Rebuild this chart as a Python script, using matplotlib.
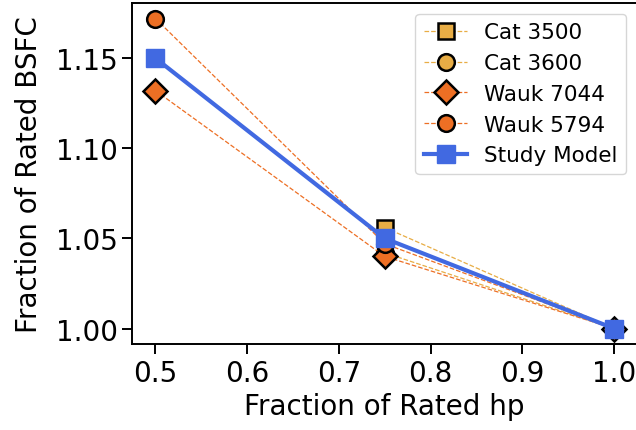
import numpy as np
import matplotlib
matplotlib.use("Agg")
import matplotlib.pyplot as plt

# Fraction of rated hp (load points)
hp_frac = [0.5, 0.75, 1.0]

# Fraction of rated BSFC for each engine
cat_3500 = [np.nan, 1.056, 1.0]
cat_3600 = [np.nan, 1.042, 1.0]
wauk_7044 = [1.132, 1.040, 1.0]
wauk_5794 = [1.172, 1.047, 1.0]
study_model = [1.15, 1.05, 1.0]

gold = "#e8ad45"
orange = "#ed6f24"
blue = "#4169e1"

plt.rcParams["font.size"] = 20

fig = plt.figure(figsize=(6.36, 4.31), dpi=100)
ax = fig.add_axes([0.2083, 0.1995, 0.7933, 0.7912])

ax.plot(hp_frac, cat_3500, "--s", color=gold, lw=0.9, ms=12,
        mfc=gold, mec="black", mew=1.8, label="Cat 3500")
ax.plot(hp_frac, cat_3600, "--o", color=gold, lw=0.9, ms=12,
        mfc=gold, mec="black", mew=1.8, label="Cat 3600")
ax.plot(hp_frac, wauk_7044, "--D", color=orange, lw=0.9, ms=12,
        mfc=orange, mec="black", mew=1.8, label="Wauk 7044")
ax.plot(hp_frac, wauk_5794, "--o", color=orange, lw=0.9, ms=12,
        mfc=orange, mec="black", mew=1.8, label="Wauk 5794")
ax.plot(hp_frac, study_model, "-s", color=blue, lw=3, ms=13.5,
        label="Study Model")

ax.set_xlabel("Fraction of Rated hp")
ax.set_ylabel("Fraction of Rated BSFC", labelpad=9)
ax.set_yticks([1.00, 1.05, 1.10, 1.15])
ax.tick_params(length=7, width=1.4)
for s in ax.spines.values():
    s.set_linewidth(1.4)

ax.legend(loc="upper right", fontsize=15.5)

fig.savefig("out.png", dpi=100)
